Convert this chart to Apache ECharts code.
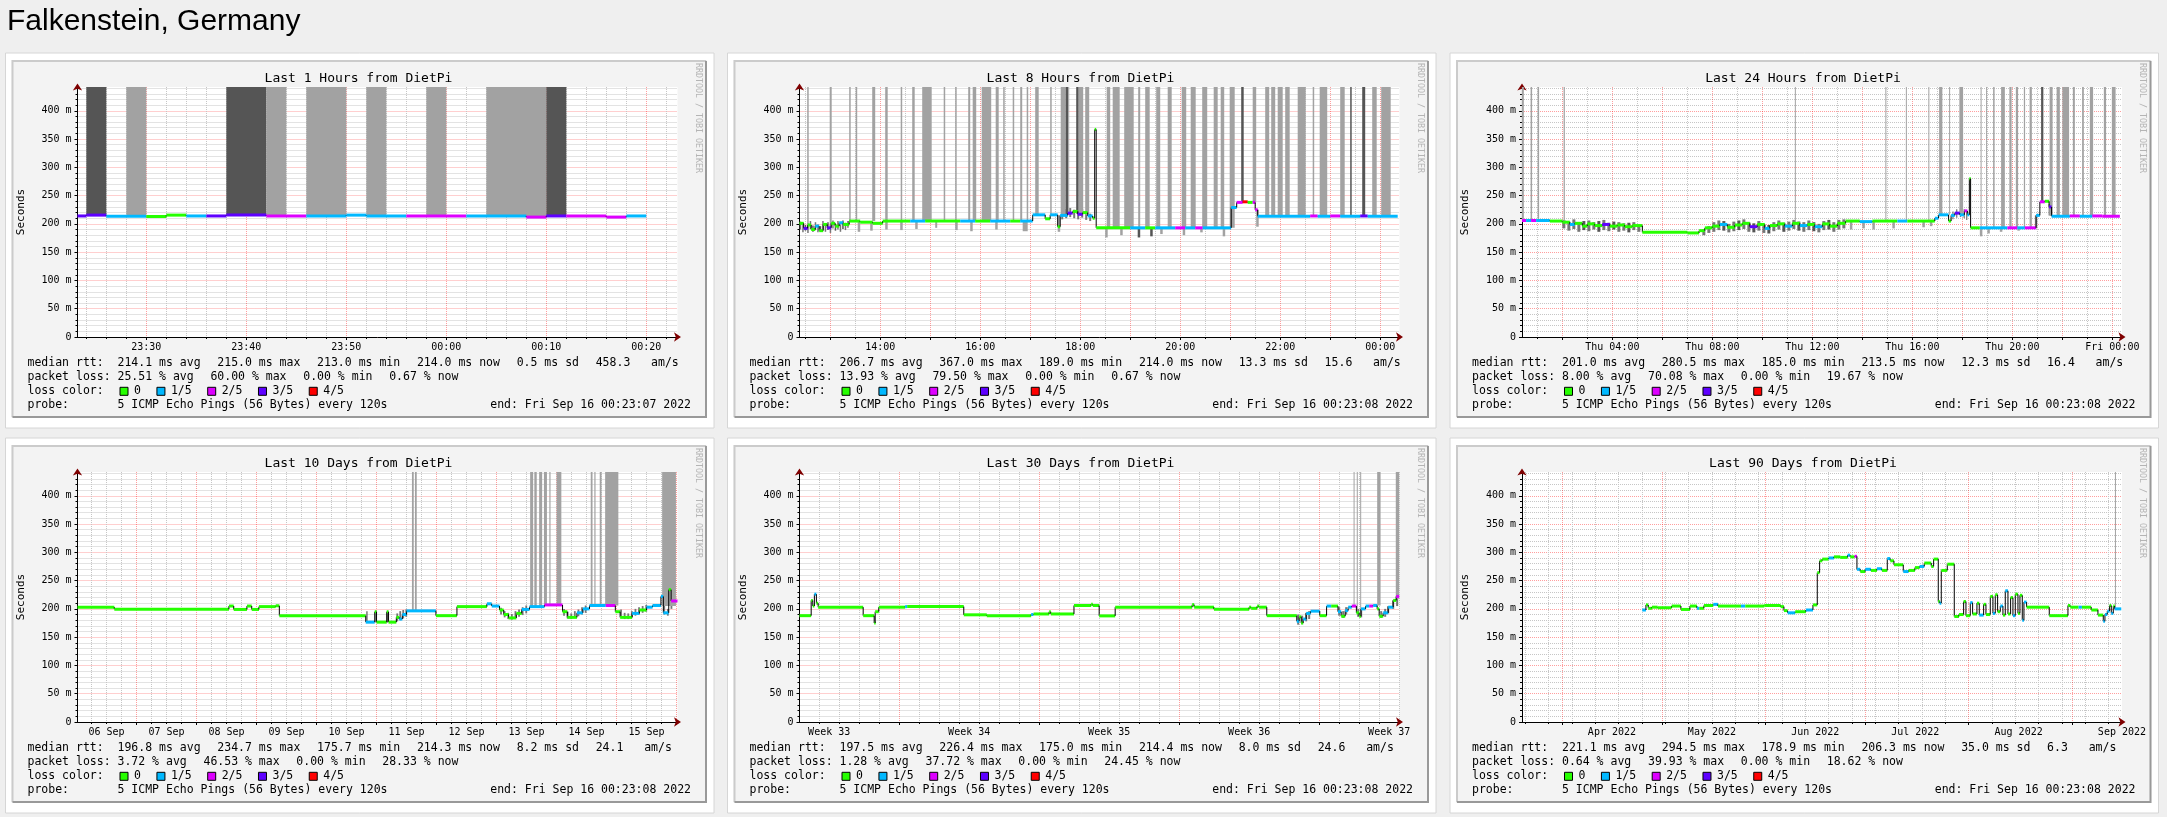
<!DOCTYPE html>
<html>
<head>
<meta charset="utf-8">
<title>Falkenstein, Germany</title>
<script src="https://cdn.jsdelivr.net/npm/echarts@6/dist/echarts.min.js"></script>
<style>
  html, body { margin: 0; padding: 0; background: #efefef; }
  #chart { width: 2167px; height: 817px; }
</style>
</head>
<body>
<div id="chart"></div>
<script>
// SmokePing overview for one target, six RRD style panels

const pageTitle = 'Falkenstein, Germany';
const titles = [
  'Last 1 Hours from DietPi', 'Last 8 Hours from DietPi', 'Last 24 Hours from DietPi',
  'Last 10 Days from DietPi', 'Last 30 Days from DietPi', 'Last 90 Days from DietPi'
];

// x units: P1 minutes after 23:00, P2/P3 hours after Sep 15 00:00,
// P4 days after Sep 6, P5 days after Aug 17, P6 days after Mar 1
const xRanges = [[23.117, 83.117], [12.386, 24.386], [0.386, 24.386], [0.016, 10.016], [0.016, 30.016], [19.016, 199.016]];
const majorTicks = [
  [30, 40, 50, 60, 70, 80],
  [13, 14, 15, 16, 17, 18, 19, 20, 21, 22, 23, 24],
  [2, 4, 6, 8, 10, 12, 14, 16, 18, 20, 22, 24],
  [1, 2, 3, 4, 5, 6, 7, 8, 9, 10],
  [5, 12, 19, 26],
  [31, 61, 92, 122, 153, 184]
];
const labelValues = [
  [30, 40, 50, 60, 70, 80],
  [14, 16, 18, 20, 22, 24],
  [4, 8, 12, 16, 20, 24],
  [0.5, 1.5, 2.5, 3.5, 4.5, 5.5, 6.5, 7.5, 8.5, 9.5],
  [1.5, 8.5, 15.5, 22.5, 29.5],
  [46, 76, 107, 137, 168, 199]
];
const labelTexts = [
  ['23:30', '23:40', '23:50', '00:00', '00:10', '00:20'],
  ['14:00', '16:00', '18:00', '20:00', '22:00', '00:00'],
  ['Thu 04:00', 'Thu 08:00', 'Thu 12:00', 'Thu 16:00', 'Thu 20:00', 'Fri 00:00'],
  ['06 Sep', '07 Sep', '08 Sep', '09 Sep', '10 Sep', '11 Sep', '12 Sep', '13 Sep', '14 Sep', '15 Sep'],
  ['Week 33', 'Week 34', 'Week 35', 'Week 36', 'Week 37'],
  ['Apr 2022', 'May 2022', 'Jun 2022', 'Jul 2022', 'Aug 2022', 'Sep 2022']
];

const lossLabels = ['0', '1/5', '2/5', '3/5', '4/5'];
const lossColors = ['#26ff00', '#00b8ff', '#dd00ff', '#5e00ff', '#ff0000'];

// median rtt segments: [from, to, ms, lost pings]
const medianP1 = [
  [23.117, 24, 214, 3], [24, 26, 215.5, 3], [26, 30, 213.5, 1], [30, 32, 213, 0], [32, 34, 215.5, 0],
  [34, 36, 214, 1], [36, 38, 214, 3], [38, 42, 215.5, 3], [42, 46, 214, 2], [46, 50, 214, 1],
  [50, 52, 215.5, 1], [52, 56, 214, 1], [56, 62, 214, 2], [62, 68, 214, 1], [68, 70, 212, 2],
  [70, 72, 214, 3], [72, 76, 214, 2], [76, 78, 212, 2], [78, 80, 214, 1]
];
const medianP2 = [
  [12.386, 12.47, 201, 0], [12.47, 12.55, 192, 3], [12.55, 12.62, 198, 0], [12.62, 12.7, 190, 0],
  [12.7, 12.78, 196, 1], [12.78, 12.86, 188, 0], [12.86, 12.94, 199, 0], [12.94, 13.02, 193, 3],
  [13.02, 13.1, 201, 0], [13.1, 13.18, 196, 0], [13.18, 13.26, 202, 1], [13.26, 13.38, 199, 0],
  [13.38, 13.6, 205, 0], [13.6, 13.85, 203, 0], [13.85, 14.05, 201, 0], [14.05, 14.6, 205, 0],
  [14.6, 14.9, 205, 1], [14.9, 15.6, 205, 0], [15.6, 15.9, 205, 1], [15.9, 16.2, 205, 0],
  [16.2, 16.6, 205, 1], [16.6, 16.8, 205, 0], [16.8, 17.05, 205, 1], [17.05, 17.3, 216, 1],
  [17.3, 17.4, 209, 0], [17.4, 17.55, 216, 1], [17.55, 17.6, 195, 0], [17.6, 17.75, 215, 1],
  [17.75, 17.85, 219, 3], [17.85, 17.95, 222, 0], [17.95, 18.05, 217, 3], [18.05, 18.15, 220, 0],
  [18.15, 18.25, 214, 1], [18.25, 18.29, 210, 0], [18.29, 18.32, 367, 0], [18.32, 19.0, 193, 0],
  [19.0, 19.3, 193, 1], [19.3, 19.5, 193, 0], [19.5, 19.9, 193, 1], [19.9, 20.1, 193, 2],
  [20.1, 20.3, 193, 1], [20.3, 20.45, 193, 2], [20.45, 21.02, 193, 1], [21.02, 21.13, 229, 1],
  [21.13, 21.25, 238, 2], [21.25, 21.35, 239, 4], [21.35, 21.45, 238, 0], [21.45, 21.5, 238, 2],
  [21.5, 21.55, 225, 2], [21.55, 22.6, 213.5, 1], [22.6, 22.75, 214, 2], [22.75, 23.0, 213.5, 1],
  [23.0, 23.2, 214, 2], [23.2, 23.6, 213.5, 1], [23.6, 23.75, 214, 3], [23.75, 24.35, 213.5, 1]
];
const medianP3 = [
  [0.386, 0.55, 206, 2], [0.55, 0.75, 206, 1], [0.75, 0.95, 206, 2], [0.95, 1.5, 206, 1],
  [1.5, 2.0, 205, 0], [2.0, 2.3, 203, 0], [2.3, 2.5, 199, 1], [2.5, 2.8, 201, 0], [2.8, 3.0, 196, 0],
  [3.0, 3.3, 200, 0], [3.3, 3.6, 197, 0], [3.6, 3.9, 199, 3], [3.9, 4.2, 196, 0], [4.2, 4.5, 198, 0],
  [4.5, 4.8, 195, 0], [4.8, 5.2, 197, 0], [5.2, 7.0, 185, 0], [7.0, 7.47, 184, 0], [7.47, 7.7, 188, 0],
  [7.7, 8.0, 193, 0], [8.0, 8.3, 196, 0], [8.3, 8.6, 199, 1], [8.6, 8.9, 194, 0], [8.9, 9.2, 198, 0],
  [9.2, 9.5, 201, 0], [9.5, 9.8, 195, 3], [9.8, 10.1, 199, 0], [10.1, 10.3, 192, 1], [10.3, 10.6, 197, 0],
  [10.6, 10.9, 200, 0], [10.9, 11.2, 196, 1], [11.2, 11.5, 201, 0], [11.5, 11.8, 197, 1],
  [11.8, 12.1, 199, 0], [12.1, 12.4, 195, 1], [12.4, 12.7, 200, 0], [12.7, 13.0, 196, 0],
  [13.0, 13.33, 201, 0], [13.33, 13.9, 205, 0], [13.9, 14.4, 204, 1], [14.4, 15.4, 205, 0],
  [15.4, 15.8, 205, 1], [15.8, 16.9, 205, 0], [16.9, 17.05, 210, 1], [17.05, 17.45, 216, 1],
  [17.45, 17.55, 205, 0], [17.55, 17.7, 215, 1], [17.7, 17.9, 219, 3], [17.9, 18.08, 216, 1],
  [18.08, 18.2, 223, 2], [18.2, 18.28, 216, 1], [18.28, 18.33, 280, 0], [18.33, 18.7, 193, 0],
  [18.7, 19.8, 193, 1], [19.8, 20.2, 193, 2], [20.2, 20.5, 193, 1], [20.5, 20.95, 193, 2],
  [20.95, 21.1, 215, 1], [21.1, 21.3, 239, 2], [21.3, 21.47, 240, 0], [21.47, 21.57, 230, 3],
  [21.57, 22.3, 213.5, 1], [22.3, 22.7, 214, 2], [22.7, 23.2, 213.5, 1], [23.2, 23.6, 214, 2],
  [23.6, 24.3, 213.5, 2]
];
const medianP4 = [
  [0.016, 0.63, 203, 0], [0.63, 2.54, 199.5, 0], [2.54, 2.62, 205, 0], [2.62, 2.84, 199, 0],
  [2.84, 2.92, 205, 0], [2.92, 3.04, 199, 0], [3.04, 3.32, 204, 0], [3.32, 3.38, 205.5, 0],
  [3.38, 4.82, 188, 0], [4.82, 4.97, 176.5, 1], [4.97, 5.0, 195, 0], [5.0, 5.17, 176.5, 0],
  [5.17, 5.2, 195, 0], [5.2, 5.33, 176.5, 0], [5.33, 5.38, 185, 0], [5.38, 5.43, 182, 1],
  [5.43, 5.5, 190, 1], [5.5, 5.99, 196.5, 1], [5.99, 6.34, 188, 0], [6.34, 6.84, 204, 0],
  [6.84, 6.92, 209, 1], [6.92, 7.05, 205, 1], [7.05, 7.12, 198, 0], [7.12, 7.2, 190, 0],
  [7.2, 7.33, 184, 0], [7.33, 7.42, 192, 0], [7.42, 7.55, 199, 1], [7.55, 7.8, 204, 1],
  [7.8, 8.1, 207, 2], [8.1, 8.18, 195, 0], [8.18, 8.34, 185, 0], [8.34, 8.44, 193, 1],
  [8.44, 8.55, 200, 1], [8.55, 8.82, 206, 1], [8.82, 8.98, 206, 2], [8.98, 9.06, 195, 0],
  [9.06, 9.26, 185, 0], [9.26, 9.38, 192, 1], [9.38, 9.5, 198, 0], [9.5, 9.6, 203, 1],
  [9.6, 9.74, 206, 1], [9.74, 9.78, 222, 1], [9.78, 9.87, 193, 1], [9.87, 9.91, 234, 0],
  [9.91, 10.016, 214, 2]
];
const medianP5 = [
  [0.016, 0.6, 188, 0], [0.6, 0.68, 215, 0], [0.68, 0.76, 205, 0], [0.76, 0.86, 226, 1],
  [0.86, 0.95, 210, 0], [0.95, 3.2, 203, 0], [3.2, 3.75, 188, 0], [3.75, 3.8, 175, 0],
  [3.8, 3.98, 195, 0], [3.98, 5.3, 203, 0], [5.3, 5.4, 204, 1], [5.4, 8.23, 204, 0],
  [8.23, 9.38, 189.5, 0], [9.38, 11.6, 188, 0], [11.6, 11.72, 190, 1], [11.72, 12.5, 191, 0],
  [12.5, 12.58, 195, 0], [12.58, 13.74, 191, 0], [13.74, 14.6, 206, 0], [14.6, 14.68, 208, 0],
  [14.68, 15.0, 206, 0], [15.0, 15.8, 187.6, 0], [15.8, 19.65, 203, 0], [19.65, 19.75, 207.5, 0],
  [19.75, 20.74, 203, 0], [20.74, 22.5, 199.4, 0], [22.5, 22.6, 203, 0], [22.6, 22.9, 201, 0],
  [22.9, 23.0, 205, 0], [23.0, 23.38, 203, 0], [23.38, 24.88, 188, 0], [24.88, 25.0, 178, 1],
  [25.0, 25.1, 186, 0], [25.1, 25.2, 175, 0], [25.2, 25.35, 182, 1], [25.35, 25.57, 192, 1],
  [25.57, 26.03, 196, 1], [26.03, 26.37, 188, 0], [26.37, 26.6, 205, 1], [26.6, 26.94, 205, 0],
  [26.94, 27.1, 195, 1], [27.1, 27.3, 187, 0], [27.3, 27.45, 197, 1], [27.45, 27.63, 203, 1],
  [27.63, 27.86, 205, 2], [27.86, 28.0, 193, 0], [28.0, 28.09, 187, 0], [28.09, 28.32, 200, 1],
  [28.32, 28.5, 205, 1], [28.5, 28.7, 205, 2], [28.7, 28.9, 206, 1], [28.9, 29.0, 200, 0],
  [29.0, 29.2, 187, 0], [29.2, 29.45, 193, 1], [29.45, 29.7, 203, 1], [29.7, 29.85, 215, 0],
  [29.85, 30.0, 222, 2]
];
const medianP6 = [
  [55.1, 56.2, 198, 1], [56.2, 56.9, 207, 0], [56.9, 58, 201, 0], [58, 59.7, 203, 0],
  [59.7, 63.9, 202, 0], [63.9, 66.7, 205, 0], [66.7, 69.4, 199, 0], [69.4, 71.5, 205, 0],
  [71.5, 72.2, 201, 1], [72.2, 73.6, 201, 0], [73.6, 76.4, 206, 0], [76.4, 77.8, 208, 1],
  [77.8, 84.7, 205, 0], [84.7, 86, 205, 1], [86, 91.7, 205, 0], [91.7, 96.6, 206, 0],
  [96.6, 97.6, 204, 0], [97.6, 98.7, 197, 0], [98.7, 101, 193, 1], [101, 104.2, 195, 0],
  [104.2, 106.3, 198, 1], [106.3, 107.6, 207, 0], [107.6, 108.3, 264, 0], [108.3, 109.1, 285, 0],
  [109.1, 111, 288, 0], [111, 112.6, 290, 1], [112.6, 114.5, 292, 0], [114.5, 116.7, 291, 0],
  [116.7, 117.5, 295, 1], [117.5, 118.8, 292, 0], [118.8, 119.5, 293, 2], [119.5, 120.5, 270, 1],
  [120.5, 122, 266, 0], [122, 123.7, 270, 1], [123.7, 125.5, 268, 0], [125.5, 127, 271, 1],
  [127, 128.6, 268, 0], [128.6, 129.5, 289, 1], [129.5, 130.6, 285, 0], [130.6, 133.4, 278, 0],
  [133.4, 135, 266, 1], [135, 136.9, 268, 0], [136.9, 138.3, 273, 0], [138.3, 139.7, 275, 1],
  [139.7, 141.8, 281, 0], [141.8, 142.5, 275, 0], [142.5, 143.9, 288, 0], [143.9, 144.3, 213, 0],
  [144.3, 144.8, 210, 1], [144.8, 146.6, 268, 0], [146.6, 148.7, 279, 0], [148.7, 150.1, 186.5, 0],
  [150.1, 151.5, 190, 0], [151.5, 152.2, 213, 0], [152.2, 153.5, 188, 0], [153.5, 154.2, 211, 1],
  [154.2, 155.5, 191, 0], [155.5, 156.2, 210, 0], [156.2, 157.5, 189, 1], [157.5, 158.2, 208, 0],
  [158.2, 159.5, 190, 0], [159.5, 160.3, 222, 0], [160.3, 161, 192, 1], [161, 161.7, 225, 0],
  [161.7, 162.5, 195, 0], [162.5, 163.3, 205, 1], [163.3, 164, 189, 0], [164, 164.8, 232, 1],
  [164.8, 165.6, 191, 0], [165.6, 166.3, 220, 0], [166.3, 167, 188, 1], [167, 167.8, 226, 0],
  [167.8, 168.4, 192, 0], [168.4, 169.1, 224, 0], [169.1, 169.6, 180, 1], [169.6, 170.4, 212, 1],
  [170.4, 177.2, 203, 0], [177.2, 182.8, 188, 0], [182.8, 183.5, 206, 0], [183.5, 186, 203, 0],
  [186, 187, 203, 1], [187, 189.8, 203, 0], [189.8, 191.8, 198, 0], [191.8, 193.4, 189, 0],
  [193.4, 193.9, 178, 1], [193.9, 194.6, 190, 1], [194.6, 195.3, 196, 1], [195.3, 195.8, 206, 0],
  [195.8, 196.4, 192, 1], [196.4, 196.8, 205, 0], [196.8, 198.8, 200, 1]
];

// smoke: [from, to, low ms, high ms, shade 1 light / 2 dark / 3 mid]; 442 is the top of the graph
const smokeP1 = [
  [24, 26, 215.5, 442, 2], [28, 30, 214, 442, 1], [38, 42, 215.5, 442, 2], [42, 44, 214, 442, 1],
  [46, 50, 214, 442, 1], [52, 54, 214, 442, 1], [58, 60, 214, 442, 1], [64, 70, 214, 442, 1],
  [70, 72, 214, 442, 2]
];
const smokeP2 = [
  [12.39, 12.42, 190, 204, 3], [12.44, 12.47, 185, 203, 3], [12.49, 12.52, 188, 198, 2], [12.54, 12.57, 184, 201, 3],
  [12.59, 12.62, 191, 205, 3], [12.64, 12.67, 186, 197, 2], [12.69, 12.72, 189, 203, 3], [12.74, 12.77, 185, 199, 3],
  [12.79, 12.82, 187, 196, 2], [12.84, 12.87, 190, 205, 3], [12.89, 12.92, 186, 200, 3], [12.94, 12.97, 189, 203, 2],
  [12.99, 13.02, 184, 198, 3], [13.04, 13.07, 192, 206, 3], [13.09, 13.12, 188, 200, 2], [13.14, 13.17, 190, 205, 3],
  [13.19, 13.22, 186, 199, 3], [13.24, 13.27, 191, 206, 2], [13.29, 13.32, 189, 202, 3], [13.34, 13.37, 193, 205, 3],
  [13.55, 13.6, 186, 205, 1], [13.8, 13.85, 188, 205, 1], [14.1, 14.15, 190, 205, 1], [14.4, 14.45, 189, 205, 1],
  [14.7, 14.75, 191, 205, 1], [15.1, 15.14, 193, 205, 1], [15.5, 15.55, 189, 205, 1], [15.8, 15.85, 187, 205, 1],
  [16.3, 16.35, 190, 205, 1], [16.85, 16.95, 187, 205, 1], [17.55, 17.6, 186, 215, 1],
  [17.62, 17.66, 208, 222, 3], [17.7, 17.74, 210, 226, 3], [17.78, 17.82, 212, 228, 3], [17.86, 17.9, 210, 225, 3],
  [17.94, 17.98, 208, 222, 3], [18.02, 18.06, 211, 226, 3], [18.1, 18.14, 207, 221, 3], [18.18, 18.22, 205, 218, 3],
  [18.5, 18.55, 176, 193, 1], [18.8, 18.85, 180, 193, 1], [19.15, 19.2, 176, 193, 2], [19.4, 19.45, 178, 193, 2],
  [19.6, 19.65, 182, 193, 1], [20.05, 20.1, 180, 193, 1], [20.4, 20.45, 185, 193, 1], [20.85, 20.9, 178, 193, 1],
  [21.52, 21.57, 195, 225, 1],
  [12.54, 12.57, 195, 442, 1], [12.99, 13.03, 195, 442, 1], [13.38, 13.41, 205, 442, 1], [13.51, 13.54, 205, 442, 1],
  [13.84, 13.9, 205, 442, 1], [14.1, 14.15, 205, 442, 1], [14.41, 14.44, 205, 442, 1], [14.64, 14.69, 205, 442, 1],
  [14.84, 15.03, 205, 442, 1], [15.27, 15.3, 205, 442, 1], [15.5, 15.53, 205, 442, 1], [15.76, 15.8, 205, 442, 1],
  [15.85, 15.92, 205, 442, 1], [16.03, 16.22, 205, 442, 1], [16.31, 16.37, 205, 442, 1], [16.46, 16.49, 205, 442, 1],
  [16.65, 16.68, 205, 442, 1], [16.8, 16.84, 205, 442, 1], [16.93, 16.96, 205, 442, 1], [17.1, 17.17, 216, 442, 1],
  [17.4, 17.43, 216, 442, 1], [17.61, 17.71, 216, 442, 1], [17.71, 17.76, 216, 442, 2], [17.76, 17.78, 216, 442, 1],
  [17.92, 17.97, 218, 442, 2], [17.97, 18.06, 218, 442, 1], [18.1, 18.18, 216, 442, 1], [18.53, 18.6, 193, 442, 1],
  [18.65, 18.79, 193, 442, 1], [18.88, 19.07, 193, 442, 1], [19.16, 19.2, 193, 442, 1], [19.3, 19.39, 193, 442, 1],
  [19.52, 19.6, 193, 442, 1], [19.75, 19.83, 193, 442, 1], [20.03, 20.12, 193, 442, 1], [20.21, 20.31, 193, 442, 1],
  [20.44, 20.54, 193, 442, 1], [20.67, 20.75, 193, 442, 1], [20.81, 20.88, 193, 442, 1], [20.99, 21.09, 193, 442, 1],
  [21.22, 21.27, 238, 442, 2], [21.45, 21.52, 238, 442, 1], [21.7, 21.78, 213, 442, 1], [21.82, 21.9, 213, 442, 1],
  [21.95, 22.05, 213, 442, 1], [22.1, 22.19, 213, 442, 1], [22.35, 22.51, 213, 442, 1], [22.65, 22.68, 213, 442, 1],
  [22.79, 22.94, 213, 442, 1], [23.2, 23.29, 213, 442, 1], [23.4, 23.43, 213, 442, 2], [23.64, 23.7, 213, 442, 2],
  [23.84, 23.93, 213, 442, 1], [24.02, 24.21, 213, 442, 1]
];
const smokeP3 = [
  [2.0, 2.12, 192, 207, 3], [2.2, 2.32, 188, 204, 3], [2.4, 2.52, 191, 208, 3], [2.6, 2.72, 186, 203, 3],
  [2.8, 2.92, 189, 205, 2], [3.0, 3.12, 187, 206, 3], [3.2, 3.32, 190, 203, 3], [3.4, 3.52, 186, 205, 2],
  [3.6, 3.72, 189, 207, 3], [3.8, 3.92, 187, 202, 3], [4.0, 4.12, 190, 204, 2], [4.2, 4.32, 186, 203, 3],
  [4.4, 4.52, 188, 201, 3], [4.6, 4.72, 185, 202, 2], [4.8, 4.92, 189, 203, 3], [5.0, 5.12, 186, 199, 3],
  [7.6, 7.72, 180, 190, 3], [7.8, 7.92, 184, 196, 3], [8.0, 8.12, 186, 203, 3], [8.2, 8.32, 189, 206, 3],
  [8.4, 8.52, 188, 205, 2], [8.6, 8.72, 185, 200, 3], [8.8, 8.92, 187, 204, 3], [9.0, 9.12, 189, 206, 2],
  [9.2, 9.32, 191, 208, 3], [9.4, 9.52, 186, 203, 3], [9.6, 9.72, 185, 201, 2], [9.8, 9.92, 188, 205, 3],
  [10.0, 10.12, 184, 199, 3], [10.2, 10.32, 183, 198, 2], [10.4, 10.52, 187, 203, 3], [10.6, 10.72, 190, 206, 3],
  [10.8, 10.92, 186, 202, 2], [11.0, 11.12, 188, 204, 3], [11.2, 11.32, 191, 207, 3], [11.4, 11.52, 188, 204, 2],
  [11.6, 11.72, 186, 203, 3], [11.8, 11.92, 189, 206, 3], [12.0, 12.12, 187, 203, 2], [12.2, 12.32, 185, 200, 3],
  [12.4, 12.52, 189, 205, 3], [12.6, 12.72, 190, 207, 2], [12.8, 12.92, 186, 203, 3], [13.0, 13.12, 190, 207, 3],
  [13.2, 13.32, 192, 208, 3],
  [13.5, 13.6, 190, 205, 1], [14.0, 14.1, 192, 205, 1], [14.4, 14.5, 190, 205, 1], [15.2, 15.3, 192, 205, 1],
  [16.4, 16.5, 194, 205, 1], [16.7, 16.8, 196, 205, 1],
  [17.6, 17.65, 208, 222, 3], [17.75, 17.8, 211, 226, 3], [17.9, 17.95, 212, 228, 3], [18.05, 18.1, 210, 226, 3],
  [18.15, 18.2, 207, 222, 3], [18.7, 18.8, 178, 193, 1], [19.0, 19.1, 183, 193, 1], [19.5, 19.6, 186, 193, 1],
  [20.2, 20.3, 188, 193, 1], [20.9, 21.0, 192, 215, 1], [21.45, 21.5, 215, 235, 3],
  [0.38, 0.46, 206, 442, 1], [0.73, 0.79, 206, 442, 1], [1.01, 1.07, 206, 442, 1], [2.05, 2.1, 203, 442, 1],
  [11.3, 11.33, 200, 442, 1], [14.92, 14.95, 205, 442, 1], [15.74, 15.78, 205, 442, 1], [16.64, 16.67, 205, 442, 1],
  [17.07, 17.2, 216, 442, 1], [17.47, 17.5, 216, 442, 1], [17.88, 18.03, 218, 442, 1], [18.73, 18.76, 193, 442, 1],
  [18.95, 18.98, 193, 442, 1], [19.23, 19.29, 193, 442, 1], [19.55, 19.7, 193, 442, 1], [19.88, 19.97, 193, 442, 1],
  [20.14, 20.23, 193, 442, 1], [20.46, 20.51, 193, 442, 1], [20.69, 20.78, 193, 442, 1], [21.15, 21.24, 239, 442, 2],
  [21.49, 21.61, 214, 442, 1], [21.77, 21.9, 214, 442, 1], [22.0, 22.27, 214, 442, 1], [22.42, 22.5, 214, 442, 1],
  [22.79, 22.86, 214, 442, 1], [23.1, 23.23, 214, 442, 1], [23.66, 23.75, 214, 442, 1], [23.98, 24.13, 214, 442, 1]
];
const smokeP4 = [
  [4.83, 4.85, 176, 196, 2], [4.98, 5.0, 176, 196, 2], [5.17, 5.19, 176, 195, 2],
  [5.33, 5.36, 178, 192, 3], [5.38, 5.41, 180, 196, 3], [5.43, 5.46, 183, 198, 3], [5.48, 5.51, 186, 199, 3],
  [7.06, 7.09, 190, 202, 3], [7.12, 7.15, 185, 196, 3], [7.18, 7.21, 182, 193, 3], [7.24, 7.27, 181, 191, 3],
  [7.3, 7.33, 183, 196, 3], [7.36, 7.39, 186, 199, 3], [7.42, 7.45, 189, 203, 3], [7.48, 7.51, 192, 206, 3],
  [8.11, 8.14, 188, 200, 3], [8.17, 8.2, 183, 195, 3], [8.23, 8.26, 182, 192, 3], [8.29, 8.32, 184, 196, 3],
  [8.35, 8.38, 187, 199, 3], [8.41, 8.44, 190, 203, 3], [8.47, 8.5, 193, 206, 3],
  [9.06, 9.09, 187, 199, 3], [9.12, 9.15, 182, 193, 3], [9.18, 9.21, 182, 192, 3], [9.24, 9.27, 185, 196, 3],
  [9.3, 9.33, 188, 200, 3], [9.36, 9.39, 190, 203, 3], [9.42, 9.45, 193, 205, 3], [9.48, 9.51, 195, 207, 3],
  [9.78, 9.81, 190, 210, 3], [9.84, 9.87, 188, 200, 3], [9.9, 9.93, 200, 236, 3],
  [5.59, 5.62, 196, 442, 1], [5.64, 5.67, 196, 442, 1], [7.56, 7.61, 204, 442, 1], [7.63, 7.67, 204, 442, 1],
  [7.71, 7.76, 204, 442, 1], [7.79, 7.84, 207, 442, 1], [7.88, 7.9, 207, 442, 1], [8.0, 8.08, 207, 442, 1],
  [8.57, 8.6, 206, 442, 1], [8.63, 8.65, 206, 442, 1], [8.72, 8.75, 206, 442, 1], [8.81, 9.03, 206, 442, 1],
  [9.76, 9.99, 205, 442, 1]
];
const smokeP5 = [
  [24.9, 25.0, 172, 190, 3], [25.1, 25.2, 173, 188, 3], [25.3, 25.4, 178, 193, 3], [25.45, 25.55, 182, 196, 3],
  [26.95, 27.05, 188, 203, 3], [27.15, 27.25, 184, 196, 3], [27.3, 27.4, 190, 203, 3],
  [27.9, 28.0, 186, 200, 3], [28.05, 28.15, 185, 199, 3],
  [29.05, 29.15, 184, 196, 3], [29.25, 29.35, 186, 200, 3], [29.4, 29.5, 192, 205, 3],
  [29.65, 29.75, 200, 215, 3], [29.85, 29.95, 205, 222, 3],
  [27.72, 27.76, 205, 442, 1], [27.88, 27.92, 200, 442, 1], [28.05, 28.09, 200, 442, 1], [28.9, 29.07, 206, 442, 1],
  [29.83, 30.0, 218, 442, 1]
];
const smokeP6 = [
  [196.9, 197.2, 200, 442, 1]
];

// legend statistics
const rttStats = [
  ['214.1', '215.0', '213.0', '214.0', '0.5', '458.3'],
  ['206.7', '367.0', '189.0', '214.0', '13.3', '15.6'],
  ['201.0', '280.5', '185.0', '213.5', '12.3', '16.4'],
  ['196.8', '234.7', '175.7', '214.3', '8.2', '24.1'],
  ['197.5', '226.4', '175.0', '214.4', '8.0', '24.6'],
  ['221.1', '294.5', '178.9', '206.3', '35.0', '6.3']
];
const lossStats = [
  ['25.51', '60.00', '0.00', '0.67'],
  ['13.93', '79.50', '0.00', '0.67'],
  ['8.00', '70.08', '0.00', '19.67'],
  ['3.72', '46.53', '0.00', '28.33'],
  ['1.28', '37.72', '0.00', '24.45'],
  ['0.64', '39.93', '0.00', '18.62']
];
const endTimes = [
  'Fri Sep 16 00:23:07 2022', 'Fri Sep 16 00:23:08 2022', 'Fri Sep 16 00:23:08 2022',
  'Fri Sep 16 00:23:08 2022', 'Fri Sep 16 00:23:08 2022', 'Fri Sep 16 00:23:08 2022'
];
const probeText = '5 ICMP Echo Pings (56 Bytes) every 120s';

const medians = [medianP1, medianP2, medianP3, medianP4, medianP5, medianP6];
const smokes = [smokeP1, smokeP2, smokeP3, smokeP4, smokeP5, smokeP6];

// ---- layout ----
const innerX = [11.5, 733.5, 1456];
const innerY = [60, 445];
const IMG_W = 695.5, IMG_H = 358;
const PLOT_L = 66, PLOT_T = 27, PLOT_W = 600, PLOT_H = 250;
const Y_MAX = 442;
const MONO = "'DejaVu Sans Mono', monospace";
const MAJOR_GRID = 'rgba(255,0,0,0.38)';
const MINOR_GRID = '#c6c6c6';
const SHADE = [null, '#a2a2a2', '#555555', '#767676'];
const CW = 11.5 * 0.6021;
const GAP = 16.7;

function range(a, b, s) {
  const out = [];
  for (let v = a; v <= b + 1e-9; v += s) out.push(+v.toFixed(4));
  return out;
}
const minorTicks = [
  range(24, 82, 2).filter(v => v % 10 !== 0),
  range(12.5, 24, 1),
  range(1, 23, 2),
  range(0.25, 10, 0.25).filter(v => v % 1 !== 0),
  range(1, 30, 1).filter(v => majorTicks[4].indexOf(v) < 0),
  range(20, 199, 7).filter(v => majorTicks[5].indexOf(v) < 0)
];
const Y_MAJOR = range(0, 400, 50);
const Y_MINOR = range(10, 440, 10).filter(v => v % 50 !== 0);

function smokeItem(params, api) {
  const a = api.coord([api.value(0), api.value(3)]);
  const b = api.coord([api.value(1), api.value(2)]);
  return {
    type: 'rect',
    shape: { x: a[0], y: a[1], width: Math.max(b[0] - a[0], 1), height: b[1] - a[1] },
    style: { fill: SHADE[api.value(4)] }
  };
}

function medianItem(rows) {
  return function (params, api) {
    const r = rows[params.dataIndex];
    const a = api.coord([r[0], r[2]]);
    const b = api.coord([r[1], r[2]]);
    const kids = [];
    const prev = rows[params.dataIndex - 1];
    if (prev && Math.abs(prev[1] - r[0]) < 1e-6) {
      const c = api.coord([r[0], prev[2]]);
      kids.push({ type: 'line', shape: { x1: a[0], y1: c[1], x2: a[0], y2: a[1] }, style: { stroke: '#000', lineWidth: 1 } });
    }
    kids.push({
      type: 'line',
      shape: { x1: a[0], y1: a[1], x2: Math.max(b[0], a[0] + 1.5), y2: b[1] },
      style: { stroke: lossColors[r[3]], lineWidth: 3 }
    });
    return { type: 'group', children: kids };
  };
}

function txt(x, y, text, size, opts) {
  opts = opts || {};
  return {
    type: 'text', x: x, y: y, rotation: opts.rotation || 0, z: 5, silent: true,
    style: {
      text: text, fill: opts.fill || '#000',
      font: size + 'px ' + (opts.family || MONO),
      align: opts.align || 'left', textAlign: opts.align || 'left',
      verticalAlign: 'middle', textVerticalAlign: 'middle'
    }
  };
}

const grids = [], xAxes = [], yAxes = [], series = [];
const graphics = [txt(7, 22, pageTitle, 30, { family: "'Liberation Sans', Arial, sans-serif" })];

for (let i = 0; i < 6; i++) {
  const ix = innerX[i % 3], iy = innerY[Math.floor(i / 3)];

  // panel frame and rrd image background
  graphics.push({ type: 'rect', z: -5, silent: true, shape: { x: ix - 6, y: iy - 7, width: 708.5, height: 375 },
    style: { fill: '#ffffff', stroke: '#d6d6d6', lineWidth: 1 } });
  graphics.push({ type: 'rect', z: -4, silent: true, shape: { x: ix, y: iy, width: IMG_W, height: IMG_H },
    style: { fill: '#f3f3f3' } });
  graphics.push({ type: 'polyline', z: -3, silent: true,
    shape: { points: [[ix + 1, iy + IMG_H - 1], [ix + 1, iy + 1], [ix + IMG_W - 1, iy + 1]] },
    style: { stroke: '#cbcbcb', lineWidth: 2, fill: null } });
  graphics.push({ type: 'polyline', z: -3, silent: true,
    shape: { points: [[ix + 1, iy + IMG_H - 1], [ix + IMG_W - 1, iy + IMG_H - 1], [ix + IMG_W - 1, iy + 1]] },
    style: { stroke: '#999999', lineWidth: 2, fill: null } });

  graphics.push(txt(ix + 347, iy + 19, titles[i], 13, { align: 'center' }));
  graphics.push(txt(ix + 9.5, iy + 152, 'Seconds', 11, { align: 'center', rotation: Math.PI / 2 }));
  graphics.push(txt(ix + 686.5, iy + 58, 'RRDTOOL / TOBI OETIKER', 8.3, { align: 'center', rotation: -Math.PI / 2, fill: '#b4b4b4' }));

  // legend lines
  const r = rttStats[i], l = lossStats[i];
  const line1 = ['median rtt:  ' + r[0] + ' ms avg', r[1] + ' ms max', r[2] + ' ms min', r[3] + ' ms now', r[4] + ' ms sd', r[5] + '   am/s'];
  const line2 = ['packet loss: ' + l[0] + ' % avg', l[1] + ' % max', l[2] + ' % min', l[3] + ' % now'];
  [line1, line2].forEach(function (items, k) {
    let x = ix + 16;
    items.forEach(function (s) {
      graphics.push(txt(x, iy + 303.3 + k * 14, s, 11.5));
      x += s.length * CW + GAP;
    });
  });
  graphics.push(txt(ix + 16, iy + 331.3, 'loss color:', 11.5));
  let bx = ix + 108;
  lossLabels.forEach(function (lab, k) {
    graphics.push({ type: 'rect', z: 5, silent: true, shape: { x: bx + 0.5, y: iy + 327.3, width: 8, height: 8 },
      style: { fill: lossColors[k], stroke: '#000', lineWidth: 1 } });
    graphics.push(txt(bx + 14.5, iy + 331.3, lab, 11.5));
    bx += 14.5 + lab.length * CW + 15.5;
  });
  graphics.push(txt(ix + 16, iy + 345.3, 'probe:       ' + probeText, 11.5));
  graphics.push(txt(ix + 679.5, iy + 345.3, 'end: ' + endTimes[i], 11.5, { align: 'right' }));

  grids.push({ left: ix + PLOT_L, top: iy + PLOT_T, width: PLOT_W, height: PLOT_H,
    show: true, backgroundColor: '#ffffff', borderWidth: 0, containLabel: false });

  const lv = labelValues[i], lt = labelTexts[i];
  xAxes.push({
    gridIndex: i, type: 'value', position: 'bottom', min: xRanges[i][0], max: xRanges[i][1],
    axisLine: { show: true, onZero: false, lineStyle: { color: '#000', width: 1 } },
    axisTick: { show: true, customValues: majorTicks[i], length: 3, lineStyle: { color: '#000' } },
    axisLabel: {
      show: true, customValues: lv, interval: 0, margin: 5, fontFamily: MONO, fontSize: 10,
      lineHeight: 10, color: '#000',
      formatter: function (v) {
        let best = 0;
        lv.forEach(function (c, k) { if (Math.abs(c - v) < Math.abs(lv[best] - v)) best = k; });
        return lt[best];
      }
    },
    splitLine: { show: true, lineStyle: { color: MAJOR_GRID, type: [1, 1], width: 1 } }
  });
  xAxes.push({
    gridIndex: i, type: 'value', position: 'bottom', min: xRanges[i][0], max: xRanges[i][1],
    axisLine: { show: true, onZero: false, symbol: ['none', 'arrow'], symbolSize: [7, 7], symbolOffset: [0, 3.5],
      lineStyle: { color: '#7f0000', width: 0 } },
    axisTick: { show: true, customValues: minorTicks[i], length: 2, lineStyle: { color: '#000' } },
    axisLabel: { show: false },
    splitLine: { show: true, lineStyle: { color: MINOR_GRID, type: [1, 1], width: 1 } }
  });
  yAxes.push({
    gridIndex: i, type: 'value', position: 'left', min: 0, max: Y_MAX,
    axisLine: { show: true, onZero: false, lineStyle: { color: '#000', width: 1 } },
    axisTick: { show: true, customValues: Y_MAJOR, length: 3, lineStyle: { color: '#000' } },
    axisLabel: { show: true, customValues: Y_MAJOR, margin: 6, fontFamily: MONO, fontSize: 10, color: '#000',
      formatter: function (v) { return v === 0 ? '0' : v + ' m'; } },
    splitLine: { show: true, lineStyle: { color: MAJOR_GRID, type: [1, 1], width: 1 } }
  });
  yAxes.push({
    gridIndex: i, type: 'value', position: 'left', min: 0, max: Y_MAX,
    axisLine: { show: true, onZero: false, symbol: ['none', 'arrow'], symbolSize: [7, 7], symbolOffset: [0, 3.5],
      lineStyle: { color: '#7f0000', width: 0 } },
    axisTick: { show: true, customValues: Y_MINOR, length: 2, lineStyle: { color: '#000' } },
    axisLabel: { show: false },
    splitLine: { show: true, lineStyle: { color: MINOR_GRID, type: [1, 1], width: 1 } }
  });

  series.push({
    type: 'custom', name: 'smoke ' + (i + 1), xAxisIndex: 2 * i, yAxisIndex: 2 * i, silent: true,
    encode: { x: [0, 1], y: [2, 3] }, renderItem: smokeItem, data: smokes[i]
  });
  series.push({
    type: 'custom', name: 'median ' + (i + 1), xAxisIndex: 2 * i, yAxisIndex: 2 * i, silent: true,
    encode: { x: [0, 1], y: 2 }, renderItem: medianItem(medians[i]), data: medians[i]
  });
}

const chart = echarts.init(document.getElementById('chart'));
chart.setOption({
  backgroundColor: '#efefef',
  animation: false,
  grid: grids,
  xAxis: xAxes,
  yAxis: yAxes,
  series: series,
  graphic: { elements: graphics }
});
window.addEventListener('resize', () => chart.resize());
</script>
</body>
</html>
